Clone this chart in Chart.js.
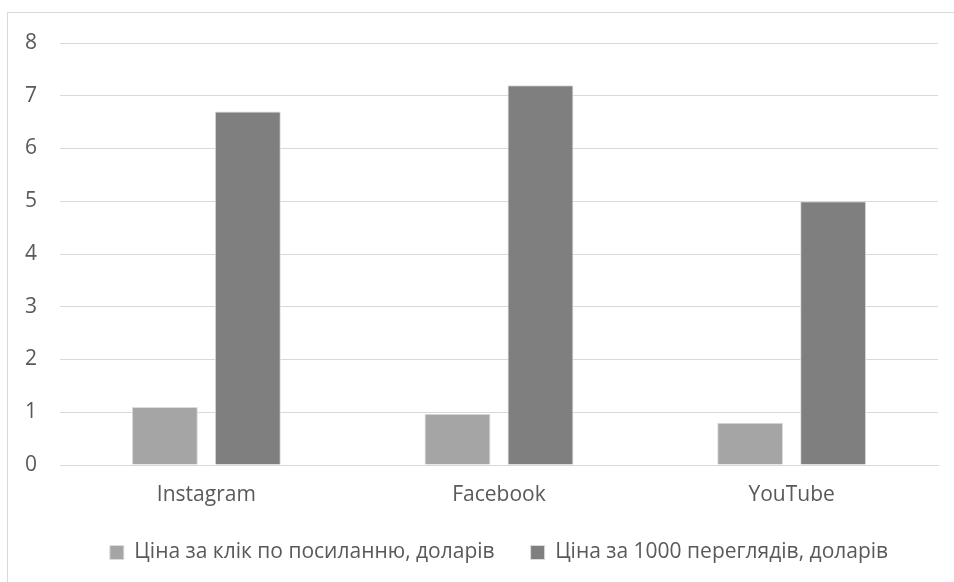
<!DOCTYPE html>
<html>
<head>
<meta charset="utf-8">
<script src="https://cdn.jsdelivr.net/npm/chart.js@4"></script>
<style>
  html, body { margin: 0; padding: 0; background: #fff; }
  #wrap { position: relative; width: 954px; height: 582px; overflow: hidden; }
  #frame { position: absolute; left: 7px; top: 12px; width: 960px; height: 600px;
           border: 1px solid #d9d9d9; box-sizing: border-box; pointer-events: none; }
</style>
</head>
<body>
<div id="wrap">
  <canvas id="myChart" width="954" height="582"></canvas>
  <div id="frame"></div>
</div>
<script>
// data
var categories = ['Instagram', 'Facebook', 'YouTube'];
var clickCost = [1.1, 0.97, 0.8];
var viewCost = [6.7, 7.2, 5.0];
var seriesNames = ['Ціна за клік по посиланню, доларів', 'Ціна за 1000 переглядів, доларів'];

var element = document.getElementById('myChart').getContext('2d');

var chartData = {
  labels: categories,
  datasets: [{
    label: seriesNames[0],
    backgroundColor: '#a5a5a5',
    borderColor: '#dcdcdc',
    borderWidth: 1,
    data: clickCost
  }, {
    label: seriesNames[1],
    backgroundColor: '#7f7f7f',
    borderColor: '#dcdcdc',
    borderWidth: 1,
    data: viewCost
  }]
};

var chartOptions = {
  responsive: false,
  animation: false,
  layout: { padding: { left: 0, right: 16, top: 43, bottom: 9 } },
  datasets: { bar: { categoryPercentage: 0.567, barPercentage: 0.795 } },
  plugins: {
    legend: {
      position: 'bottom',
      fullSize: false,
      labels: {
        boxWidth: 14, boxHeight: 14, padding: 36,
        color: '#595959',
        font: { family: 'Open Sans', size: 21 }
      }
    },
    tooltip: { enabled: false }
  },
  scales: {
    x: {
      grid: { display: false, drawTicks: false },
      border: { color: '#d9d9d9', width: 1 },
      ticks: { color: '#595959', padding: 20, font: { family: 'Open Sans', size: 21, lineHeight: 1 } },
      afterFit: function (s) { s.height = 41; }
    },
    y: {
      min: 0, max: 8,
      ticks: { stepSize: 1, color: '#595959', padding: 23, font: { family: 'Open Sans', size: 21 } },
      grid: { color: '#d9d9d9', lineWidth: 1, drawTicks: false },
      border: { display: false },
      afterFit: function (s) { s.width = 60; }
    }
  }
};

var chart = new Chart(element, { type: 'bar', data: chartData, options: chartOptions });
</script>
</body>
</html>
